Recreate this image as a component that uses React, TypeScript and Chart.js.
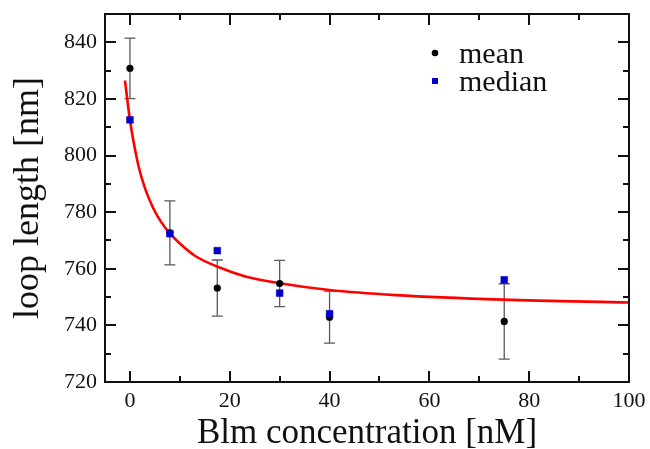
import React, { useEffect, useRef } from "react";
import { Chart, registerables } from "chart.js";

Chart.register(...registerables);

const concentration = [0, 8, 17.5, 30, 40, 75];
const meanValues = [830.8, 772.7, 753.2, 754.8, 742.9, 741.4];
const meanErrors = [10.7, 11.3, 9.9, 8.2, 9.2, 13.3];
const medianValues = [812.6, 772.4, 766.4, 751.4, 744.1, 756.1];

const fitX = [-1, 0, 0.7, 1.7, 3, 4.7, 6.3, 8, 10, 13, 17.7, 23.3, 30, 40, 53.3, 74.7, 100];
const fitY = [826.5, 812.6, 805.1, 796.4, 788.5, 781.3, 776.4, 772.5, 768.9, 764.6, 760.6, 757.2, 754.9, 752.5, 750.7, 749.1, 748.1];

const xMajorTicks = [0, 20, 40, 60, 80, 100];
const xMinorTicks = [10, 30, 50, 70, 90];
const yMajorTicks = [720, 740, 760, 780, 800, 820, 840];
const yMinorTicks = [730, 750, 770, 790, 810, 830];

const legendLabels = ["mean", "median"];

const SERIF = "'Liberation Serif', 'Times New Roman', serif";

const framePlugin = {
  id: "frameTicks",
  beforeDatasetsDraw(chart: any) {
    const ctx = chart.ctx;
    const xs = chart.scales.x;
    const ys = chart.scales.y;
    ctx.save();
    ctx.strokeStyle = "#5a5a5a";
    ctx.lineWidth = 1.3;
    const cap = 5.5;
    concentration.forEach((c, i) => {
      const px = xs.getPixelForValue(c);
      const top = ys.getPixelForValue(meanValues[i] + meanErrors[i]);
      const bot = ys.getPixelForValue(meanValues[i] - meanErrors[i]);
      ctx.beginPath();
      ctx.moveTo(px, top);
      ctx.lineTo(px, bot);
      ctx.moveTo(px - cap, top);
      ctx.lineTo(px + cap, top);
      ctx.moveTo(px - cap, bot);
      ctx.lineTo(px + cap, bot);
      ctx.stroke();
    });
    ctx.restore();
  },
  afterDraw(chart: any) {
    const ctx = chart.ctx;
    const { left, right, top, bottom } = chart.chartArea;
    const xs = chart.scales.x;
    const ys = chart.scales.y;
    ctx.save();
    ctx.strokeStyle = "#111";
    ctx.lineWidth = 2;
    const major = 11;
    const minor = 6;
    ctx.beginPath();
    const xt = (v: number, len: number) => {
      const px = Math.round(xs.getPixelForValue(v));
      ctx.moveTo(px, bottom);
      ctx.lineTo(px, bottom - len);
      ctx.moveTo(px, top);
      ctx.lineTo(px, top + len);
    };
    const yt = (v: number, len: number) => {
      const py = Math.round(ys.getPixelForValue(v));
      ctx.moveTo(left, py);
      ctx.lineTo(left + len, py);
      ctx.moveTo(right, py);
      ctx.lineTo(right - len, py);
    };
    xMajorTicks.forEach((v) => xt(v, major));
    xMinorTicks.forEach((v) => xt(v, minor));
    yMajorTicks.forEach((v) => yt(v, major));
    yMinorTicks.forEach((v) => yt(v, minor));
    ctx.stroke();
    ctx.strokeRect(left, top, right - left, bottom - top);

    // legend
    const lx = 435;
    const tx = 459;
    const ly = [53, 81];
    ctx.fillStyle = "#000";
    ctx.beginPath();
    ctx.arc(lx, ly[0], 3.3, 0, Math.PI * 2);
    ctx.fill();
    ctx.fillStyle = "#0000cc";
    ctx.fillRect(lx - 3, ly[1] - 3, 6, 6);
    ctx.fillStyle = "#111";
    ctx.font = `30px ${SERIF}`;
    ctx.textBaseline = "middle";
    ctx.textAlign = "left";
    ctx.fillText(legendLabels[0], tx, ly[0] + 2);
    ctx.fillText(legendLabels[1], tx, ly[1] + 2);
    ctx.restore();
  },
};

export default function App() {
  const ref = useRef<HTMLCanvasElement | null>(null);
  useEffect(() => {
    if (!ref.current) return;
    const chart = new Chart(ref.current, {
      type: "scatter",
      data: {
        datasets: [
          {
            label: legendLabels[1],
            data: concentration.map((c, i) => ({ x: c, y: medianValues[i] })),
            pointStyle: "rect",
            pointRadius: 4.8,
            backgroundColor: "#0000cc",
            borderColor: "#0000aa",
            borderWidth: 0.5,
          },
          {
            label: legendLabels[0],
            data: concentration.map((c, i) => ({ x: c, y: meanValues[i] })),
            pointStyle: "circle",
            pointRadius: 3.6,
            backgroundColor: "#000",
            borderColor: "#000",
            borderWidth: 0,
          },
          {
            label: "fit",
            type: "line",
            data: fitX.map((x, i) => ({ x, y: fitY[i] })),
            showLine: true,
            borderColor: "#ff0000",
            borderWidth: 2.6,
            pointRadius: 0,
            cubicInterpolationMode: "monotone",
            fill: false,
          } as any,
        ],
      },
      options: {
        responsive: false,
        animation: false,
        maintainAspectRatio: false,
        layout: { padding: { left: 0, top: 14, right: 21, bottom: 0 } },
        plugins: {
          legend: { display: false },
          tooltip: { enabled: false },
        },
        scales: {
          x: {
            type: "linear",
            min: -5,
            max: 100,
            grid: { display: false, drawTicks: false },
            border: { display: false },
            afterBuildTicks: (s: any) => {
              s.ticks = xMajorTicks.map((v) => ({ value: v }));
            },
            afterFit: (s: any) => {
              s.height = 67;
              s.paddingLeft = 0;
              s.paddingRight = 0;
            },
            ticks: {
              color: "#111",
              padding: 6,
              font: { family: SERIF, size: 22 },
            },
            title: {
              display: true,
              text: "Blm concentration [nM]",
              color: "#111",
              font: { family: SERIF, size: 35 },
              padding: { top: 0, bottom: -6 },
            },
          },
          y: {
            type: "linear",
            min: 720,
            max: 850,
            grid: { display: false, drawTicks: false },
            border: { display: false },
            afterBuildTicks: (s: any) => {
              s.ticks = yMajorTicks.map((v) => ({ value: v }));
            },
            afterFit: (s: any) => {
              s.width = 105;
              s.paddingTop = 0;
              s.paddingBottom = 0;
            },
            ticks: {
              color: "#111",
              padding: 8,
              font: { family: SERIF, size: 22 },
            },
            title: {
              display: true,
              text: "loop length [nm]",
              color: "#111",
              font: { family: SERIF, size: 36 },
              padding: { top: 7, bottom: 0 },
            },
          },
        },
      },
      plugins: [framePlugin],
    });
    return () => chart.destroy();
  }, []);
  return (
    <div style={{ position: "fixed", left: 0, top: 0, width: 650, height: 449, background: "#fff" }}>
      <canvas ref={ref} width={650} height={449} />
    </div>
  );
}
